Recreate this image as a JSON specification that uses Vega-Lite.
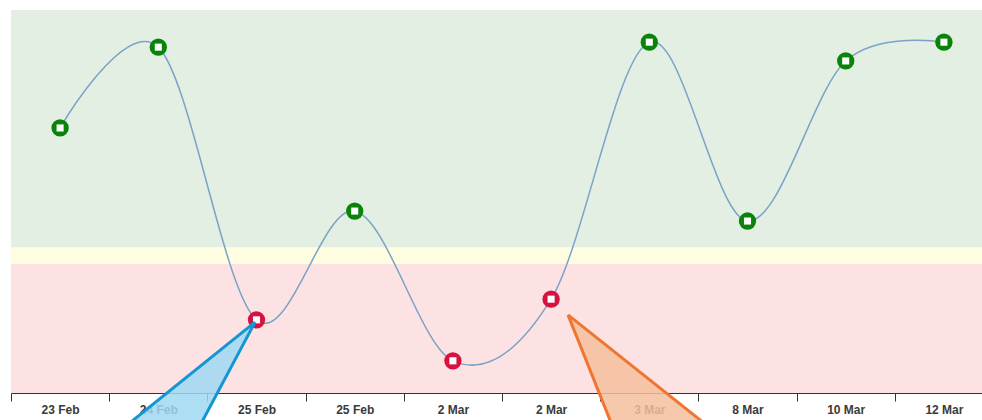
{
  "$schema": "https://vega.github.io/schema/vega-lite/v6.json",
  "width": 971,
  "height": 383,
  "autosize": {"type": "none"},
  "padding": {"left": 11, "top": 10, "right": 0, "bottom": 27},
  "background": "white",
  "config": {"view": {"stroke": null}},
  "datasets": {
    "series": [
      {"key": "23 Feb|0", "value": 69.2, "status": "good"},
      {"key": "24 Feb|1", "value": 90.3, "status": "good"},
      {"key": "25 Feb|2", "value": 19.1, "status": "bad"},
      {"key": "25 Feb|3", "value": 47.5, "status": "good"},
      {"key": "2 Mar|4", "value": 8.4, "status": "bad"},
      {"key": "2 Mar|5", "value": 24.5, "status": "bad"},
      {"key": "3 Mar|6", "value": 91.6, "status": "good"},
      {"key": "8 Mar|7", "value": 44.9, "status": "good"},
      {"key": "10 Mar|8", "value": 86.7, "status": "good"},
      {"key": "12 Mar|9", "value": 91.6, "status": "good"}
    ],
    "bands": [
      {"zone": "good", "lo": 38, "hi": 100},
      {"zone": "warn", "lo": 33.7, "hi": 38},
      {"zone": "bad", "lo": 0, "hi": 33.7}
    ],
    "callouts": [
      {"shape": "blue", "vertex": 0, "px": 1.985, "py": 18.5},
      {"shape": "blue", "vertex": 1, "px": 0.366, "py": -14.9},
      {"shape": "blue", "vertex": 2, "px": 1.292, "py": -14.9},
      {"shape": "blue", "vertex": 3, "px": 1.985, "py": 18.5},
      {"shape": "orange", "vertex": 0, "px": 5.172, "py": 20.4},
      {"shape": "orange", "vertex": 1, "px": 5.722, "py": -14.9},
      {"shape": "orange", "vertex": 2, "px": 6.903, "py": -14.9},
      {"shape": "orange", "vertex": 3, "px": 5.172, "py": 20.4}
    ]
  },
  "resolve": {"scale": {"x": "independent"}, "axis": {"x": "independent"}},
  "layer": [
    {
      "data": {"name": "bands"},
      "mark": {"type": "rect"},
      "encoding": {
        "y": {"field": "lo", "type": "quantitative", "scale": {"domain": [0, 100], "nice": false}, "axis": null},
        "y2": {"field": "hi"},
        "fill": {"field": "zone", "type": "nominal", "scale": {"domain": ["good", "warn", "bad"], "range": ["#e2efe2", "#fefde0", "#fde2e3"]}, "legend": null}
      }
    },
    {
      "data": {"name": "series"},
      "encoding": {
        "x": {
          "field": "key", "type": "ordinal", "sort": null,
          "scale": {"type": "band", "range": [0, 982], "paddingInner": 0, "paddingOuter": 0},
          "axis": {
            "title": null, "labelExpr": "isString(datum.value) ? split(datum.value, '|')[0] : ''", "tickBand": "extent",
            "labelAngle": 0, "domainColor": "#333333", "tickColor": "#333333", "tickSize": 8,
            "labelColor": "#3a3a3a", "labelFont": "Liberation Sans", "labelFontSize": 12, "labelFontWeight": "bold",
            "labelPadding": 3, "grid": false, "zindex": 0
          }
        },
        "y": {"field": "value", "type": "quantitative", "scale": {"domain": [0, 100], "nice": false}, "axis": null}
      },
      "layer": [
        {"mark": {"type": "line", "interpolate": "cardinal", "color": "#7aa3c6", "strokeWidth": 1.5}},
        {
          "mark": {"type": "point", "shape": "circle", "filled": true, "size": 300, "opacity": 1},
          "encoding": {"color": {"field": "status", "type": "nominal", "scale": {"domain": ["good", "bad"], "range": ["#0a830a", "#d6123f"]}, "legend": null}}
        },
        {"mark": {"type": "point", "shape": "square", "filled": true, "size": 50, "color": "white", "opacity": 1}}
      ]
    },
    {
      "data": {"name": "callouts"},
      "transform": [{"filter": "datum.shape == 'blue'"}],
      "mark": {"type": "line", "fill": "#9fd8f2", "fillOpacity": 0.85, "stroke": "#1596d4", "strokeWidth": 3, "strokeJoin": "miter", "clip": false},
      "encoding": {
        "x": {"field": "px", "type": "quantitative", "scale": {"domain": [-0.5, 9.5], "range": [0, 982], "nice": false, "zero": false}, "axis": null},
        "y": {"field": "py", "type": "quantitative", "scale": {"domain": [0, 100], "nice": false}, "axis": null},
        "order": {"field": "vertex", "type": "quantitative"}
      }
    },
    {
      "data": {"name": "callouts"},
      "transform": [{"filter": "datum.shape == 'orange'"}],
      "mark": {"type": "line", "fill": "#f5bf9e", "fillOpacity": 0.85, "stroke": "#ee7630", "strokeWidth": 3, "strokeJoin": "miter", "clip": false},
      "encoding": {
        "x": {"field": "px", "type": "quantitative", "scale": {"domain": [-0.5, 9.5], "range": [0, 982], "nice": false, "zero": false}, "axis": null},
        "y": {"field": "py", "type": "quantitative", "scale": {"domain": [0, 100], "nice": false}, "axis": null},
        "order": {"field": "vertex", "type": "quantitative"}
      }
    }
  ]
}
